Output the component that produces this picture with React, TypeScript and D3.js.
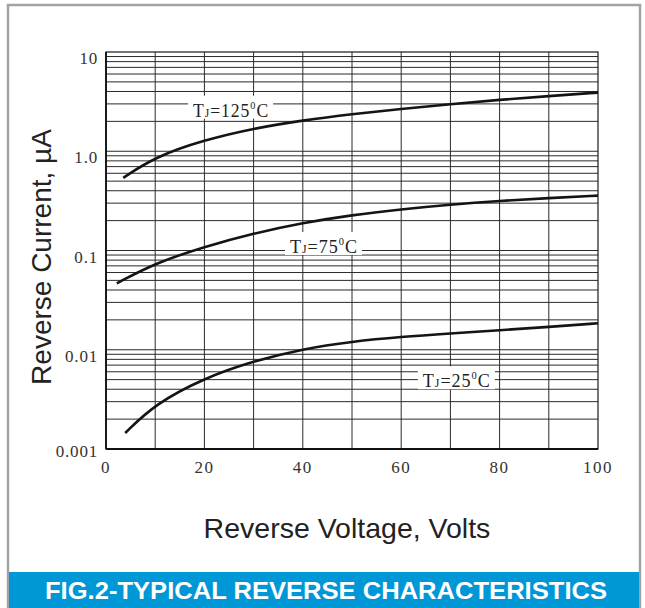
import * as d3 from "d3";

// reverse voltage, volts / reverse current, µA
const volts125 = [3.5, 10, 20, 30, 40, 50, 60, 70, 80, 90, 100];
const amps125 = [0.54, 0.88, 1.3, 1.7, 2.05, 2.37, 2.67, 2.98, 3.3, 3.6, 3.9];

const volts75 = [2.2, 10, 20, 30, 40, 50, 60, 70, 80, 90, 100];
const amps75 = [0.0467, 0.0747, 0.109, 0.149, 0.19, 0.228, 0.26, 0.29, 0.316, 0.338, 0.357];

const volts25 = [3.9, 10, 20, 30, 40, 50, 60, 70, 80, 90, 100];
const amps25 = [0.00145, 0.00285, 0.0052, 0.0077, 0.0102, 0.0121, 0.0135, 0.0146, 0.0157, 0.017, 0.0185];

const temps = ["125", "75", "25"];
const xTicks = [0, 20, 40, 60, 80, 100];
const yTickValues = [10, 1, 0.1, 0.01, 0.001];
const yTickLabels = ["10", "1.0", "0.1", "0.01", "0.001"];

const W = 645;
const H = 608;
const plot = { left: 106, right: 598, top: 52, bottom: 449 };

const x = d3.scaleLinear().domain([0, 100]).range([plot.left, plot.right]);
const y = d3.scaleLog().domain([0.001, 10]).range([plot.bottom, plot.top]);

const line = d3
  .line<[number, number]>()
  .x((d) => x(d[0]))
  .y((d) => y(d[1]))
  .curve(d3.curveBasis);

const series = [
  { temp: temps[0], pts: volts125.map((v, i) => [v, amps125[i]] as [number, number]), at: [17.7, 2.23] },
  { temp: temps[1], pts: volts75.map((v, i) => [v, amps75[i]] as [number, number]), at: [37.4, 0.0944] },
  { temp: temps[2], pts: volts25.map((v, i) => [v, amps25[i]] as [number, number]), at: [64.4, 0.00419] },
];

const serif = "'Liberation Serif', 'Times New Roman', serif";
const sans = "'Liberation Sans', Arial, sans-serif";

export default function App() {
  const vLines = d3.range(10, 100, 10);
  const hLines = y.ticks().filter((t) => t > 0.001 && t < 10);

  return (
    <svg
      width={W}
      height={H}
      style={{ position: "absolute", left: 0, top: 0, background: "#fff" }}
    >
      {/* outer frame */}
      <rect x={8} y={5} width={632} height={H} fill="none" stroke="#a3a3a3" strokeWidth={2.5} />

      {/* grid */}
      <g stroke="#2a2a2a" strokeWidth={1}>
        {hLines.map((t, i) => (
          <line key={"h" + i} x1={plot.left} x2={plot.right} y1={y(t)} y2={y(t)} />
        ))}
        {vLines.map((v) => (
          <line key={"v" + v} x1={x(v)} x2={x(v)} y1={plot.top} y2={plot.bottom} />
        ))}
      </g>
      <rect
        x={plot.left}
        y={plot.top}
        width={plot.right - plot.left}
        height={plot.bottom - plot.top}
        fill="none"
        stroke="#1a1a1a"
        strokeWidth={1.2}
      />
      <line x1={plot.left} x2={plot.left} y1={plot.top} y2={plot.bottom} stroke="#111" strokeWidth={1.8} />
      <line x1={plot.left} x2={plot.right} y1={plot.bottom} y2={plot.bottom} stroke="#111" strokeWidth={1.8} />

      {/* curves */}
      {series.map((s) => (
        <path key={s.temp} d={line(s.pts) || ""} fill="none" stroke="#141414" strokeWidth={2.6} />
      ))}

      {/* curve labels */}
      {series.map((s) => {
        const lx = x(s.at[0]);
        const ly = y(s.at[1]);
        const w = s.temp.length === 3 ? 76 : 68;
        return (
          <g key={"l" + s.temp}>
            <rect x={lx - 5} y={ly - 21} width={w + 9} height={23} fill="#fff" />
            <text
              x={lx}
              y={ly}
              fontFamily={serif}
              fontSize={19}
              fill="#222"
              letterSpacing={1}
              textLength={w}
              lengthAdjust="spacingAndGlyphs"
            >
              T<tspan fontSize={12.5}>J</tspan>={s.temp}
              <tspan fontSize={11} dy={-8}>0</tspan>
              <tspan dy={8}>C</tspan>
            </text>
          </g>
        );
      })}

      {/* y tick labels */}
      {yTickValues.map((v, i) => (
        <text
          key={"yt" + v}
          x={98}
          y={y(v) + (i === yTickValues.length - 1 ? 8 : 12)}
          textAnchor="end"
          fontFamily={serif}
          fontSize={17}
          fill="#333"
          letterSpacing={0.8}
        >
          {yTickLabels[i]}
        </text>
      ))}

      {/* x tick labels */}
      {xTicks.map((v) => (
        <text
          key={"xt" + v}
          x={x(v)}
          y={473}
          textAnchor="middle"
          fontFamily={serif}
          fontSize={17}
          fill="#333"
          letterSpacing={1.5}
        >
          {v}
        </text>
      ))}

      {/* axis titles */}
      <text
        transform="translate(51,257) rotate(-90)"
        textAnchor="middle"
        fontFamily={sans}
        fontSize={28}
        fill="#222"
      >
        Reverse Current, µA
      </text>
      <text x={347} y={538} textAnchor="middle" fontFamily={sans} fontSize={28.5} fill="#222">
        Reverse Voltage, Volts
      </text>

      {/* caption bar */}
      <rect x={9} y={572} width={630} height={H - 572} fill="#0097d7" />
      <text
        x={45}
        y={599}
        fontFamily={sans}
        fontWeight="bold"
        fontSize={24.5}
        fill="#fff"
        textLength={562}
        lengthAdjust="spacingAndGlyphs"
      >
        FIG.2-TYPICAL REVERSE CHARACTERISTICS
      </text>
    </svg>
  );
}
